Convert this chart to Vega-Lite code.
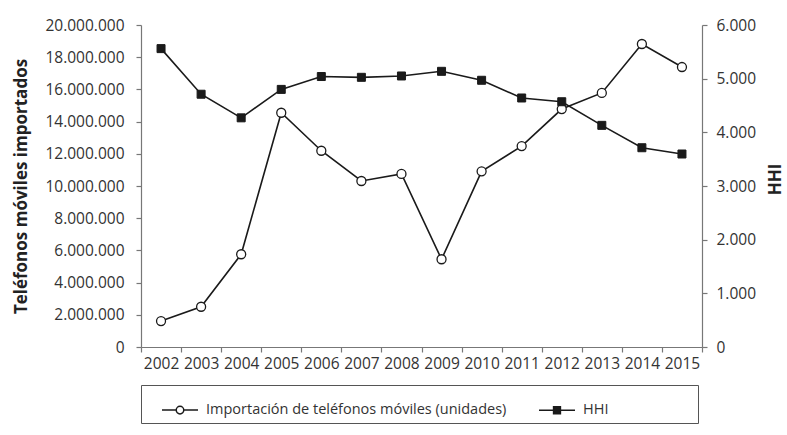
{
  "$schema": "https://vega.github.io/schema/vega-lite/v6.json",
  "width": 561,
  "height": 322,
  "autosize": {"type": "none"},
  "padding": {"left": 141, "top": 25, "right": 85, "bottom": 88},
  "background": "white",
  "config": {
    "locale": {"number": {"decimal": ",", "thousands": ".", "grouping": [3], "currency": ["", ""]}},
    "view": {"stroke": null},
    "font": "Open Sans",
    "axis": {
      "grid": false,
      "domainColor": "#777",
      "tickColor": "#777",
      "domainWidth": 1.2,
      "tickWidth": 1.2,
      "tickSize": 5,
      "labelColor": "#333",
      "labelFontSize": 15.5,
      "labelFont": "Open Sans",
      "titleFont": "Open Sans",
      "titleFontSize": 17,
      "titleFontWeight": "bold",
      "titleColor": "#222"
    },
    "legend": {
      "titleOrient": "right",
      "titlePadding": 84,
      "titleFontSize": 14,
      "orient": "none",
      "legendX": 0,
      "legendY": 360,
      "direction": "horizontal",
      "strokeColor": "#555",
      "padding": 6,
      "symbolSize": 1296,
      "symbolOffset": 14,
      "symbolOpacity": 1,
      "labelOffset": 7,
      "columnPadding": 17,
      "labelFontSize": 14.5,
      "labelLimit": 0,
      "labelColor": "#333",
      "labelFont": "Open Sans"
    }
  },
  "data": {
    "values": [
      {"year": "2002", "imports": 1610000, "hhi": 5560},
      {"year": "2003", "imports": 2500000, "hhi": 4710},
      {"year": "2004", "imports": 5760000, "hhi": 4270},
      {"year": "2005", "imports": 14550000, "hhi": 4800},
      {"year": "2006", "imports": 12190000, "hhi": 5040},
      {"year": "2007", "imports": 10310000, "hhi": 5025},
      {"year": "2008", "imports": 10750000, "hhi": 5050},
      {"year": "2009", "imports": 5450000, "hhi": 5137},
      {"year": "2010", "imports": 10910000, "hhi": 4970},
      {"year": "2011", "imports": 12480000, "hhi": 4640},
      {"year": "2012", "imports": 14780000, "hhi": 4570},
      {"year": "2013", "imports": 15780000, "hhi": 4130},
      {"year": "2014", "imports": 18820000, "hhi": 3713},
      {"year": "2015", "imports": 17390000, "hhi": 3596}
    ]
  },
  "encoding": {
    "x": {
      "field": "year",
      "type": "ordinal",
      "scale": {"paddingInner": 0, "paddingOuter": 0},
      "axis": {"title": null, "labelAngle": 0, "tickBand": "extent", "labelPadding": 4}
    }
  },
  "layer": [
    {
      "encoding": {
        "y": {
          "field": "imports",
          "type": "quantitative",
          "scale": {"domain": [0, 20000000], "nice": false},
          "axis": {
            "values": [0, 2000000, 4000000, 6000000, 8000000, 10000000, 12000000, 14000000, 16000000, 18000000, 20000000],
            "format": ",d",
            "title": "Teléfonos móviles importados",
            "labelPadding": 12,
            "titleX": -111
          }
        }
      },
      "layer": [
        {"mark": {"type": "line", "color": "#1a1a1a", "strokeWidth": 1.6}},
        {
          "mark": {"type": "point", "shape": "circle", "filled": true, "fill": "white", "size": 81, "stroke": "#1a1a1a", "strokeWidth": 1.3, "opacity": 1}
        },
        {
          "mark": {"type": "point", "filled": true, "size": 0, "stroke": "#1a1a1a", "strokeWidth": 1.4, "opacity": 1},
          "encoding": {
            "shape": {
              "datum": "Importación de teléfonos móviles (unidades)",
              "type": "nominal",
              "legend": {"title": "\u00a0"},
              "scale": {
                "domain": ["Importación de teléfonos móviles (unidades)", "HHI"],
                "range": [
                  "M-1,0H-0.21M0.21,0H1M-0.21,0A0.21,0.21 0 1,1 0.21,0A0.21,0.21 0 1,1 -0.21,0Z",
                  "M-1,0H1M-0.19,-0.19H0.19V0.19H-0.19Z"
                ]
              }
            },
            "fill": {
              "datum": "Importación de teléfonos móviles (unidades)",
              "type": "nominal",
              "legend": {"title": "\u00a0"},
              "scale": {"domain": ["Importación de teléfonos móviles (unidades)", "HHI"], "range": ["white", "#1a1a1a"]}
            }
          }
        }
      ]
    },
    {
      "encoding": {
        "y": {
          "field": "hhi",
          "type": "quantitative",
          "scale": {"domain": [0, 6000], "nice": false},
          "axis": {
            "values": [0, 1000, 2000, 3000, 4000, 5000, 6000],
            "format": ",d",
            "title": "HHI",
            "orient": "right",
            "titleAngle": -90,
            "titleBaseline": "middle",
            "titleAlign": "center",
            "titleX": 73,
            "titleY": 154,
            "labelPadding": 9
          }
        }
      },
      "layer": [
        {"mark": {"type": "line", "color": "#1a1a1a", "strokeWidth": 1.6}},
        {
          "mark": {"type": "point", "shape": "square", "filled": true, "fill": "#1a1a1a", "size": 64, "stroke": "#1a1a1a", "strokeWidth": 1, "opacity": 1}
        },
        {
          "mark": {"type": "point", "filled": true, "size": 0, "stroke": "#1a1a1a", "strokeWidth": 1.4, "opacity": 1},
          "encoding": {
            "shape": {"datum": "HHI", "type": "nominal", "legend": {"title": "\u00a0"}},
            "fill": {"datum": "HHI", "type": "nominal", "legend": {"title": "\u00a0"}}
          }
        }
      ]
    }
  ],
  "resolve": {"scale": {"y": "independent"}}
}
